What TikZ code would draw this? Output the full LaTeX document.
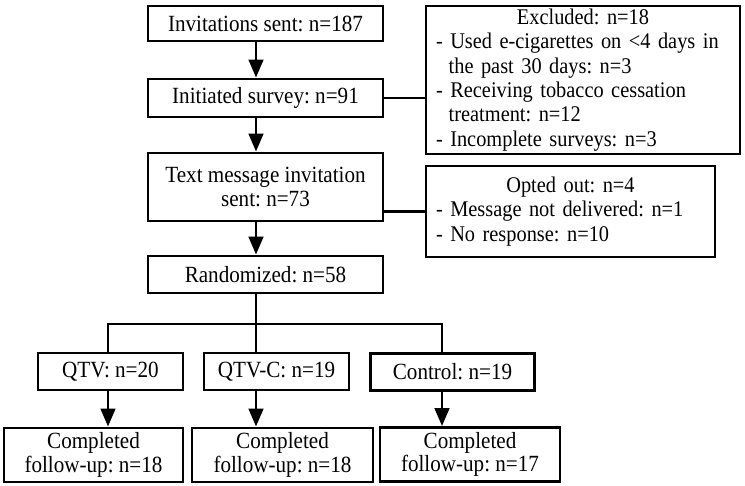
\documentclass[tikz,border=0pt]{standalone}
\usepackage{fontspec}
\setmainfont{Liberation Serif}[FakeStretch=0.91]
\usetikzlibrary{arrows.meta}
\begin{document}
\frenchspacing
\begin{tikzpicture}[x=0.75pt,y=-0.75pt,
  box/.style={draw, line width=2.2pt, inner sep=0pt, align=center,
    font=\fontsize{17.4}{17.6}\selectfont},
  listbox/.style={box, align=left, inner xsep=7.5pt,
    font=\fontsize{16.8}{18.3}\selectfont},
  conn/.style={line width=2pt},
  arr/.style={line width=2pt, -{Triangle[length=13.5pt,width=11pt]}}]
\useasboundingbox (0,0) rectangle (745,485);
% main column
\node[box, minimum width=176.25pt, minimum height=26.25pt] (inv) at (265.5,23.5) {Invitations sent: n=187};
\node[box, minimum width=176.25pt, minimum height=28.5pt] (ini) at (265.5,98) {Initiated survey: n=91};
\node[box, minimum width=176.25pt, minimum height=51pt] (txt) at (265.5,187) {Text message invitation\\sent: n=73};
\node[box, minimum width=176.25pt, minimum height=27.75pt] (ran) at (265.5,274.5) {Randomized: n=58};
% side boxes
\node[listbox, text width=220.5pt, minimum height=111pt] (exc) at (583,80) {\makebox[220.5pt]{Excluded: n=18}\\
\mbox{- Used e-cigarettes on <4 days in}\\
\mbox{\hspace*{9.5pt}the past 30 days: n=3}\\
\mbox{- Receiving tobacco cessation}\\
\mbox{\hspace*{9.5pt}treatment: n=12}\\
\mbox{- Incomplete surveys: n=3}};
\node[listbox, text width=201.75pt, minimum height=68.25pt] (opt) at (570.5,211.5) {\makebox[201.75pt]{Opted out: n=4}\\
\mbox{- Message not delivered: n=1}\\
\mbox{- No response: n=10}};
% arms
\node[box, minimum width=108.75pt, minimum height=27.75pt] (qtv) at (110.5,371.5) {QTV: n=20};
\node[box, minimum width=108.75pt, minimum height=27.75pt] (qtvc) at (276.5,371.5) {QTV-C: n=19};
\node[box, minimum width=123pt, minimum height=27.75pt] (ctl) at (452.5,372) {Control: n=19};
\node[box, minimum width=134.25pt, minimum height=40.5pt] (c1) at (93.5,455) {Completed\\follow-up: n=18};
\node[box, minimum width=135.75pt, minimum height=40.5pt] (c2) at (282.5,455) {Completed\\follow-up: n=18};
\node[box, minimum width=135pt, minimum height=40.5pt] (c3) at (470,454.5) {Completed\\follow-up: n=17};
% axes
\coordinate (ax) at (256,0);
\coordinate (bl) at (108,324);
\coordinate (br) at (442,324);
% connectors
\draw[arr] (inv.south -| ax) -- (ini.north -| ax);
\draw[arr] (ini.south -| ax) -- (txt.north -| ax);
\draw[arr] (txt.south -| ax) -- (ran.north -| ax);
\draw[conn] (ini.east) -- (ini.east -| exc.west);
\draw[conn] (opt.west -| txt.east) -- (opt.west);
\draw[conn] (ran.south -| ax) -- (qtvc.north -| ax);
\draw[conn] (qtv.north -| bl) -- (bl) -- (br) -- (ctl.north -| br);
\draw[arr] (qtv.south -| bl) -- (c1.north -| bl);
\draw[arr] (qtvc.south -| ax) -- (c2.north -| ax);
\draw[arr] (ctl.south -| br) -- (c3.north -| br);
\end{tikzpicture}
\end{document}
